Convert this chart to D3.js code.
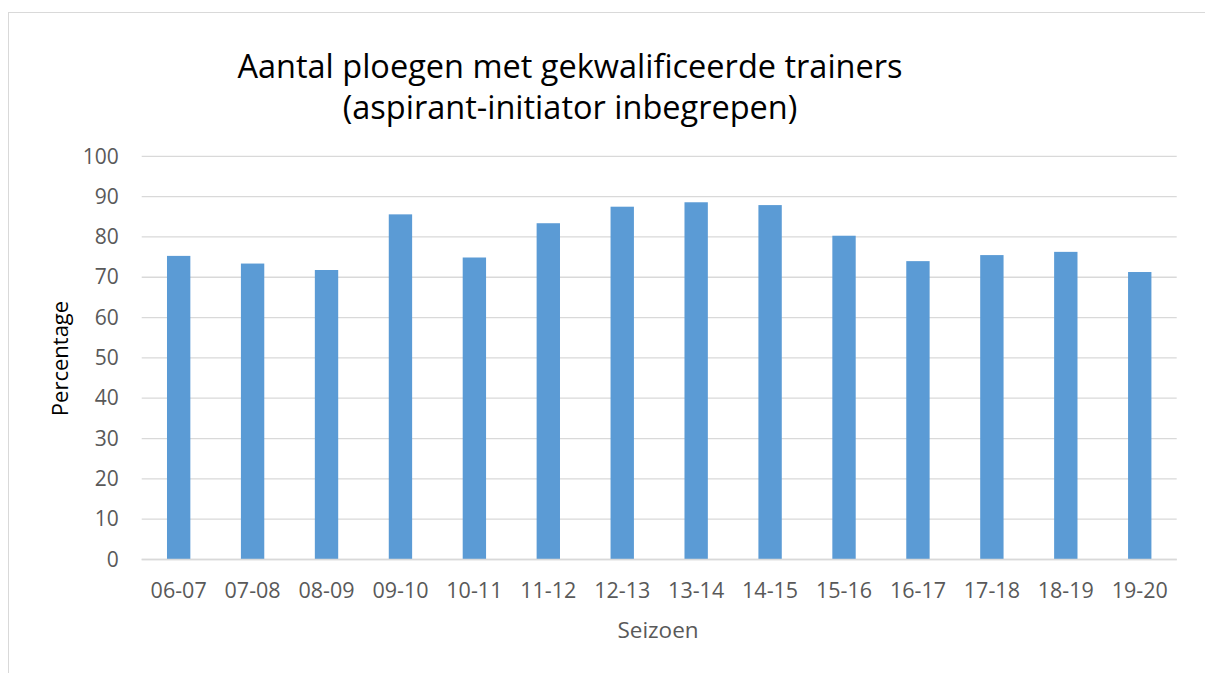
<!DOCTYPE html>
<html><head><meta charset="utf-8">
<script src="https://cdn.jsdelivr.net/npm/d3@7"></script>
<style>html,body{margin:0;padding:0;background:#fff;overflow:hidden}</style>
</head><body><div id="chart"></div>
<script>
const categories = ["06-07","07-08","08-09","09-10","10-11","11-12","12-13","13-14","14-15","15-16","16-17","17-18","18-19","19-20"];
const values = [75.3,73.4,71.8,85.6,74.9,83.4,87.5,88.6,87.9,80.3,74.0,75.5,76.3,71.3];
const yTicks = [0,10,20,30,40,50,60,70,80,90,100];
const titleLines = ["Aantal ploegen met gekwalificeerde trainers","(aspirant-initiator inbegrepen)"];
const yTitle = "Percentage";
const xTitle = "Seizoen";

const W = 1205, H = 673;
const font = "'Open Sans', 'Noto Sans', sans-serif";
const svg = d3.select("#chart").append("svg").attr("width", W).attr("height", H);
svg.append("rect").attr("x",0).attr("y",0).attr("width",W).attr("height",H).attr("fill","#fff");
svg.append("rect").attr("x",8.5).attr("y",12.5).attr("width",W+10).attr("height",H+10)
  .attr("fill","none").attr("stroke","#d9d9d9").attr("stroke-width",1);

const pLeft = 141.7, pRight = 1176.7, pTop = 156.3, pBottom = 559.5;
const x = d3.scaleBand().domain(categories).range([pLeft,pRight]).paddingInner(0.684).paddingOuter(0.342);
const y = d3.scaleLinear().domain([0,100]).range([pBottom,pTop]);

svg.append("g").selectAll("line").data(yTicks).join("line")
  .attr("x1",pLeft).attr("x2",pRight)
  .attr("y1",d=>y(d)).attr("y2",d=>y(d))
  .attr("stroke","#d9d9d9").attr("stroke-width",1.3);

svg.append("g").selectAll("rect").data(values).join("rect")
  .attr("x",(d,i)=>x(categories[i])).attr("width",x.bandwidth())
  .attr("y",d=>y(d)).attr("height",d=>y(0)-y(d))
  .attr("fill","#5b9bd5");

svg.append("line").attr("x1",pLeft).attr("x2",pRight).attr("y1",y(0)).attr("y2",y(0))
  .attr("stroke","#d9d9d9").attr("stroke-width",1.3);

const yAxis = svg.append("g").attr("transform",`translate(${pLeft},0)`)
  .call(d3.axisLeft(y).tickValues(yTicks).tickSize(0).tickPadding(23));
yAxis.select(".domain").remove();
yAxis.selectAll("text").attr("font-family",font).attr("font-size",21).attr("fill","#595959");

const xAxis = svg.append("g").attr("transform",`translate(0,${pBottom})`)
  .call(d3.axisBottom(x).tickSize(0).tickPadding(23));
xAxis.select(".domain").remove();
xAxis.selectAll("text").attr("font-family",font).attr("font-size",21.5).attr("fill","#595959");

svg.append("g").selectAll("text").data(titleLines).join("text")
  .attr("x",570).attr("y",(d,i)=>78+i*41)
  .attr("text-anchor","middle").attr("font-family",font).attr("font-size",32.5)
  .attr("fill","#000").text(d=>d);

svg.append("text").attr("transform","translate(68,358.5) rotate(-90)")
  .attr("text-anchor","middle").attr("font-family",font).attr("font-size",22)
  .attr("fill","#000").text(yTitle);
svg.append("text").attr("x",658).attr("y",637.7)
  .attr("text-anchor","middle").attr("font-family",font).attr("font-size",22.5)
  .attr("fill","#595959").text(xTitle);
</script></body></html>
